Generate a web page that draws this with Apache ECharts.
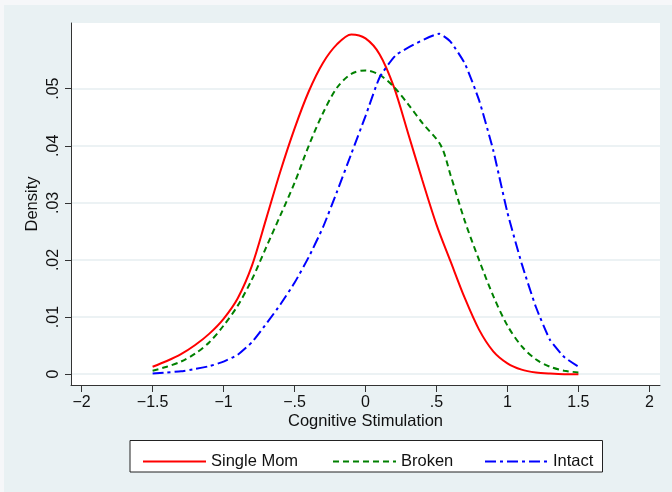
<!DOCTYPE html>
<html>
<head>
<meta charset="utf-8">
<script src="https://cdn.jsdelivr.net/npm/echarts@6/dist/echarts.min.js"></script>
<style>
  html, body { margin: 0; padding: 0; background: #f6f7f9; }
  #chart { width: 672px; height: 492px; }
</style>
</head>
<body>
<div id="chart"></div>
<script>
// Kernel density of cognitive stimulation by family structure
const groupNames = ['Single Mom', 'Broken', 'Intact'];

const singleMomX = [-1.5, -1.4, -1.3, -1.2, -1.1, -1.0, -0.9, -0.8, -0.7, -0.6, -0.5, -0.4, -0.3, -0.2, -0.1,
                    0.0, 0.1, 0.2, 0.3, 0.4, 0.5, 0.6, 0.7, 0.8, 0.9, 1.0, 1.1, 1.2, 1.3, 1.4, 1.5];
const singleMomY = [0.0013, 0.0023, 0.0035, 0.0051, 0.0071, 0.0097, 0.0133, 0.0190, 0.0272, 0.0355, 0.0430,
                    0.0495, 0.0545, 0.0578, 0.0595, 0.0588, 0.0560, 0.0503, 0.0422, 0.0340, 0.0262, 0.0197,
                    0.0133, 0.0078, 0.0040, 0.0019, 0.0008, 0.0003, 0.0001, 0.0000, 0.0000];

const brokenX = [-1.5, -1.4, -1.3, -1.2, -1.1, -1.0, -0.9, -0.8, -0.7, -0.6, -0.5, -0.4, -0.3, -0.2, -0.1,
                 0.0, 0.1, 0.2, 0.3, 0.4, 0.53, 0.6, 0.7, 0.8, 0.9, 1.0, 1.1, 1.2, 1.3, 1.4, 1.5];
const brokenY = [0.0006, 0.0013, 0.0022, 0.0036, 0.0056, 0.0085, 0.0120, 0.0166, 0.0222, 0.0278, 0.0335,
                 0.0400, 0.0457, 0.0502, 0.0526, 0.0532, 0.0524, 0.0503, 0.0473, 0.0440, 0.0401, 0.0348,
                 0.0268, 0.0200, 0.0137, 0.0085, 0.0049, 0.0026, 0.0013, 0.0006, 0.0003];

const intactX = [-1.5, -1.4, -1.3, -1.2, -1.1, -1.0, -0.9, -0.8, -0.7, -0.6, -0.5, -0.4, -0.3, -0.2, -0.1,
                 0.0, 0.1, 0.22, 0.52, 0.6, 0.7, 0.8, 0.9, 1.0, 1.1, 1.2, 1.3, 1.4, 1.5];
const intactY = [0.0001, 0.0003, 0.0005, 0.0009, 0.0014, 0.0022, 0.0034, 0.0056, 0.0088, 0.0122, 0.0160,
                 0.0205, 0.0257, 0.0320, 0.0386, 0.0452, 0.0520, 0.0560, 0.0596, 0.0582, 0.0544, 0.0480,
                 0.0392, 0.0283, 0.0194, 0.0118, 0.0060, 0.0030, 0.0013];

const xTicks = [-2, -1.5, -1, -0.5, 0, 0.5, 1, 1.5, 2];
const yTicks = [0, 0.01, 0.02, 0.03, 0.04, 0.05];

const FONT = '"Liberation Sans", Arial, Helvetica, sans-serif';

// Stata-style numbers: no leading zero, true minus sign
function stataNum(v) {
  if (Math.abs(v) < 1e-12) return '0';
  let s = String(+v.toFixed(4));
  s = s.replace(/^(-?)0\./, '$1.');
  return s.replace('-', '\u2212');
}

function pairs(xs, ys) {
  return xs.map((x, i) => [x, ys[i]]);
}

const chart = echarts.init(document.getElementById('chart'), null, { renderer: 'canvas' });

// one legend per key so each sample line sits where it belongs in the box
const legendBase = {
  top: 448,
  itemWidth: 63,
  itemHeight: 14,
  itemStyle: { opacity: 0 },
  textStyle: { fontFamily: FONT, fontSize: 16.5, color: '#111' },
  selectedMode: false
};

chart.setOption({
  backgroundColor: '#f6f7f9',
  animation: false,
  graphic: [
    { type: 'rect', left: 4, top: 5, z: -10, silent: true,
      shape: { width: 668, height: 487 }, style: { fill: '#e9f1f3' } },
    { type: 'rect', left: 129.5, top: 440, z: 1, silent: true,
      shape: { width: 472.5, height: 31.5 }, style: { fill: '#ffffff', stroke: '#222', lineWidth: 1 } }
  ],
  grid: {
    left: 71, top: 23, right: 12, bottom: 107,
    show: true, backgroundColor: '#ffffff', borderWidth: 0
  },
  legend: [
    Object.assign({}, legendBase, { data: [groupNames[0]], left: 137 }),
    Object.assign({}, legendBase, { data: [groupNames[1]], left: 327 }),
    Object.assign({}, legendBase, { data: [groupNames[2]], left: 479 })
  ],
  xAxis: {
    type: 'value',
    min: -2.075, max: 2.075,
    name: 'Cognitive Stimulation',
    nameLocation: 'middle',
    nameGap: 28,
    nameMoveOverlap: false,
    nameTextStyle: { fontFamily: FONT, fontSize: 16.5, color: '#111' },
    axisLine: { show: true, onZero: false, lineStyle: { color: '#333', width: 1 } },
    axisTick: { show: true, length: 7, customValues: xTicks, lineStyle: { color: '#333' } },
    axisLabel: { customValues: xTicks, margin: 10, fontFamily: FONT, fontSize: 16, color: '#111',
                 formatter: stataNum },
    splitLine: { show: false }
  },
  yAxis: {
    type: 'value',
    min: -0.0019, max: 0.0615,
    name: 'Density',
    nameLocation: 'middle',
    nameGap: 30,
    nameMoveOverlap: false,
    nameTextStyle: { fontFamily: FONT, fontSize: 16.5, color: '#111' },
    axisLine: { show: true, onZero: false, lineStyle: { color: '#333', width: 1 } },
    axisTick: { show: true, length: 6, customValues: yTicks, lineStyle: { color: '#333' } },
    axisLabel: { customValues: yTicks, rotate: 90, margin: 9, fontFamily: FONT, fontSize: 16, color: '#111',
                 formatter: stataNum },
    splitLine: { show: true, lineStyle: { color: '#e6eef1', width: 1.5 } }
  },
  series: [
    {
      name: groupNames[0], type: 'line', data: pairs(singleMomX, singleMomY),
      symbol: 'none', z: 3, smooth: 0.3,
      lineStyle: { color: '#ff0000', width: 2, type: 'solid' },
      itemStyle: { color: '#ff0000' }
    },
    {
      name: groupNames[1], type: 'line', data: pairs(brokenX, brokenY),
      symbol: 'none', z: 4, smooth: 0.3,
      lineStyle: { color: '#008000', width: 2, type: [6, 4] },
      itemStyle: { color: '#008000' }
    },
    {
      name: groupNames[2], type: 'line', data: pairs(intactX, intactY),
      symbol: 'none', z: 5, smooth: 0.15,
      lineStyle: { color: '#0000ff', width: 2, type: [11, 4, 3, 4] },
      itemStyle: { color: '#0000ff' }
    }
  ]
});
</script>
</body>
</html>
